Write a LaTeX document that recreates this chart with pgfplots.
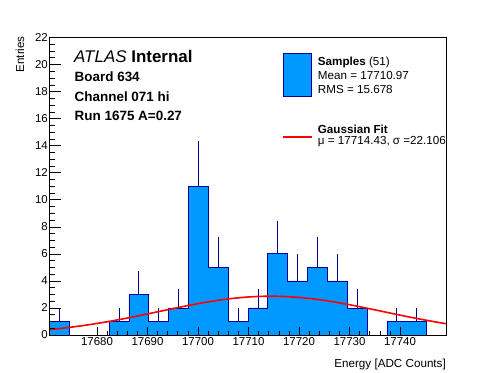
\documentclass[border=0pt]{standalone}
\usepackage{pgfplots}
\pgfplotsset{compat=1.18}
\usepackage{fontspec}
\setmainfont{Liberation Sans}
\definecolor{histfill}{RGB}{0,153,255}
\definecolor{histline}{RGB}{0,0,153}
\definecolor{fitred}{RGB}{255,0,0}
\newcommand{\lf}{\fontsize{11.7}{14}\selectfont}
\begin{document}
\begin{tikzpicture}[x=1bp,y=1bp]
\path[use as bounding box] (0,0) rectangle (496,372);
\begin{axis}[
  at={(49.5bp,37bp)}, anchor=south west,
  scale only axis, width=397bp, height=297.5bp,
  xmin=17670.6, xmax=17749.2, ymin=0, ymax=22,
  xtick={17680,17690,17700,17710,17720,17730,17740}, ytick={0,2,...,22},
  xticklabels={17680,17690,17700,17710,17720,17730,17740},
  minor x tick num=4, minor y tick num=3,
  tick align=inside,
  xtick pos=bottom, ytick pos=left,
  scaled x ticks=false,
  /pgf/number format/assume math mode=true,
  /pgf/number format/1000 sep={},
  ticklabel style={font=\fontsize{11.5}{13}\selectfont},
  yticklabel style={inner sep=1.5bp},
  xticklabel style={anchor=base, inner sep=0pt, yshift=-10.7bp},
  major tick length=11.5bp, minor tick length=6bp,
  xtick style={/pgfplots/major tick length=8bp,/pgfplots/minor tick length=4bp},
  axis line style={line width=0.8bp},
  every tick/.style={black, line width=0.6bp},
  axis on top,
]
\addplot[const plot, fill=histfill, draw=histline, line width=0.8bp] coordinates {
(17670.60,1) (17674.53,0) (17678.46,0) (17682.39,1) (17686.32,3)
(17690.25,1) (17694.18,2) (17698.11,11) (17702.04,5) (17705.97,1)
(17709.90,2) (17713.83,6) (17717.76,4) (17721.69,5) (17725.62,4)
(17729.55,2) (17733.48,0) (17737.41,1) (17741.34,1) (17745.27,0)
(17749.20,0)
} \closedcycle;
\addplot[draw=none, mark=none, forget plot,
  error bars/.cd, y dir=plus, y explicit, error mark=none,
  error bar style={histline, line width=0.8bp}] coordinates {
(17672.565,1) +- (0,1)
(17684.355,1) +- (0,1)
(17688.285,3) +- (0,1.732)
(17692.215,1) +- (0,1)
(17696.145,2) +- (0,1.414)
(17700.075,11) +- (0,3.317)
(17704.005,5) +- (0,2.236)
(17707.935,1) +- (0,1)
(17711.865,2) +- (0,1.414)
(17715.795,6) +- (0,2.449)
(17719.725,4) +- (0,2)
(17723.655,5) +- (0,2.236)
(17727.585,4) +- (0,2)
(17731.515,2) +- (0,1.414)
(17739.375,1) +- (0,1)
(17743.305,1) +- (0,1)
};
\addplot[fitred, line width=1.6bp, smooth, mark=none] coordinates {
(17670.6,0.401) (17674,0.539) (17678,0.738) (17682,0.979) (17686,1.255)
(17690,1.558) (17694,1.872) (17698,2.178) (17702,2.451) (17706,2.669)
(17710,2.813) (17714,2.870) (17718,2.833) (17722,2.707) (17726,2.503)
(17730,2.240) (17734,1.940) (17738,1.626) (17742,1.319) (17746,1.035)
(17749.2,0.833)
};
\end{axis}
% annotations
\node[anchor=base west, inner sep=0, font=\fontsize{17}{20}\selectfont] at (74,309.3) {\textit{ATLAS} \textbf{Internal}};
\node[anchor=base west, inner sep=0, font=\fontsize{13.5}{16}\selectfont\bfseries] at (74.5,291) {Board 634};
\node[anchor=base west, inner sep=0, font=\fontsize{13.5}{16}\selectfont\bfseries] at (74.5,271) {Channel 071 hi};
\node[anchor=base west, inner sep=0, font=\fontsize{13.5}{16}\selectfont\bfseries] at (74.5,252) {Run 1675 A=0.27};
% legend
\filldraw[fill=histfill, draw=histline, line width=0.8bp] (283.5,275.5) rectangle (311.5,318.5);
\node[anchor=base west, inner sep=0, font=\lf] at (317.7,307) {\textbf{Samples} (51)};
\node[anchor=base west, inner sep=0, font=\lf] at (317.7,292.7) {Mean = 17710.97};
\node[anchor=base west, inner sep=0, font=\lf] at (317.7,278.7) {RMS = 15.678};
\draw[fitred, line width=1.6bp] (283,235.3) -- (312,235.3);
\node[anchor=base west, inner sep=0, font=\lf] at (317.7,238.7) {\textbf{Gaussian Fit}};
\node[anchor=base west, inner sep=0, font=\lf] at (317.7,227.7) {μ = 17714.43, σ =22.106};
% axis titles
\node[rotate=90, anchor=base east, inner sep=0, font=\lf] at (24,336) {Entries};
\node[anchor=base east, inner sep=0, font=\lf] at (446,4.3) {Energy [ADC Counts]};
\end{tikzpicture}
\end{document}
